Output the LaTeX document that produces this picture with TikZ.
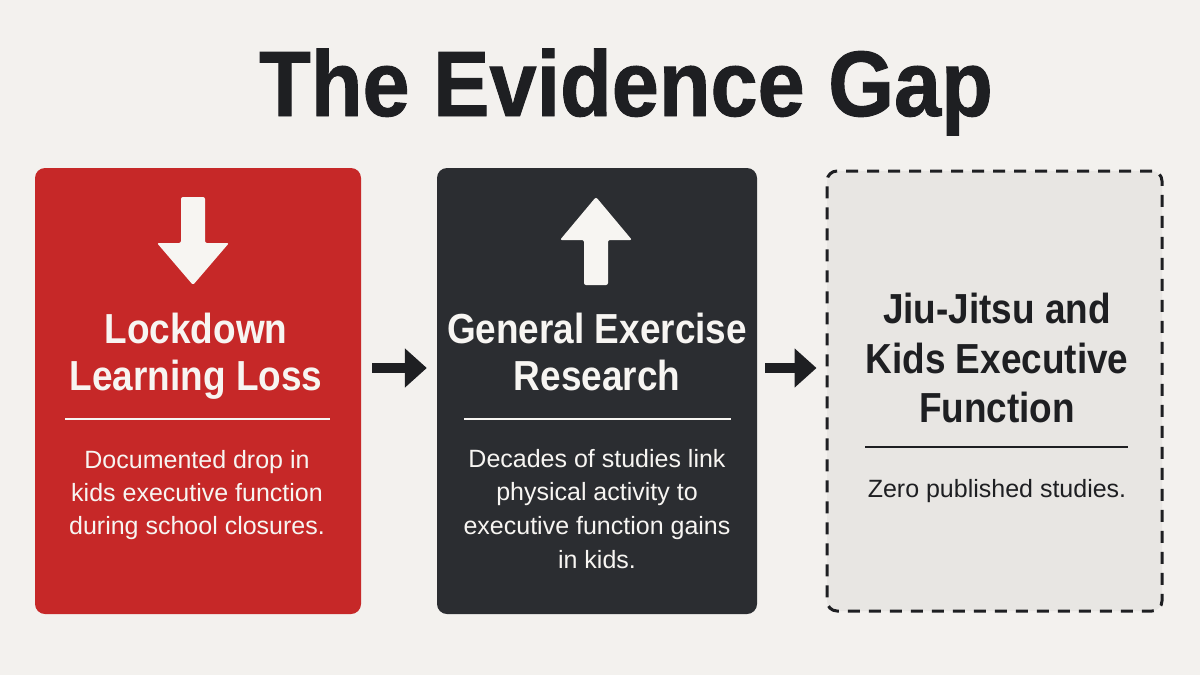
\documentclass[tikz,border=0pt]{standalone}
\usepackage{fontspec}
\setmainfont{Liberation Sans}
\newfontfamily\condfont[FakeStretch=0.88]{Liberation Sans}
\newfontfamily\titlefont[FakeStretch=0.91,FakeBold=1]{Liberation Sans}
\usetikzlibrary{arrows.meta}
\definecolor{bg}{HTML}{F3F1EE}
\definecolor{cardred}{HTML}{C62828}
\definecolor{carddark}{HTML}{2B2D31}
\definecolor{cardgray}{HTML}{E8E6E3}
\definecolor{ink}{HTML}{1E1F22}
\definecolor{paper}{HTML}{F7F5F2}
\begin{document}
\begin{tikzpicture}[x=1pt,y=-1pt,
  card/.style={rectangle, rounded corners=10pt, minimum width=#1, minimum height=446pt, inner sep=0pt},
  cardtitle/.style={anchor=base, inner sep=0pt, font=\condfont\bfseries\fontsize{42}{48}\selectfont},
  cardbody/.style={anchor=base, inner sep=0pt, font=\fontsize{25}{30}\selectfont},
  flow/.style={draw=ink, line width=10pt, -{Triangle[length=22pt,width=38pt]}},
  rule/.style={line width=2pt}]
\useasboundingbox (0,0) rectangle (1200,675);
\fill[bg] (0,0) rectangle (1200,675);

% title
\node[anchor=base, inner sep=0pt, text=ink, font=\titlefont\bfseries\fontsize{93}{100}\selectfont] (title) at (626,116) {The Evidence Gap};

% cards
\node[card=326pt, fill=cardred] (b1) at (198,391) {};
\node[card=320pt, fill=carddark] (b2) at (597,391) {};
\node[card=335pt, minimum height=440pt, fill=cardgray, draw=ink, line width=3pt, dash pattern=on 12pt off 9pt] (b3) at (994.5,391) {};

% icons
\fill[paper, rounded corners=2pt] (181,197) -- (205,197) -- (205,243) -- (229,243) -- (193,285) -- (157,243) -- (181,243) -- cycle;
\fill[paper, rounded corners=2pt] (596,197) -- (632,240) -- (608,240) -- (608,285) -- (584,285) -- (584,240) -- (560,240) -- cycle;

% card 1 text
\node[cardtitle, text=paper] (t1a) at (196,343) {Lockdown};
\node[cardtitle, text=paper] (t1b) at (196,390) {Learning Loss};
\draw[rule, paper] (65,419) -- (330,419);
\node[cardbody, text=paper] (d1a) at (197,468) {Documented drop in};
\node[cardbody, text=paper] (d1b) at (197,501) {kids executive function};
\node[cardbody, text=paper] (d1c) at (197,534) {during school closures.};

% card 2 text
\node[cardtitle, text=paper] (t2a) at (597,343) {General Exercise};
\node[cardtitle, text=paper] (t2b) at (597,390) {Research};
\draw[rule, paper] (464,419) -- (731,419);
\node[cardbody, text=paper] (d2a) at (597,467) {Decades of studies link};
\node[cardbody, text=paper] (d2b) at (597,500) {physical activity to};
\node[cardbody, text=paper] (d2c) at (597,534) {executive function gains};
\node[cardbody, text=paper] (d2d) at (597,568) {in kids.};

% card 3 text
\node[cardtitle, text=ink] (t3a) at (997,323) {Jiu-Jitsu and};
\node[cardtitle, text=ink] (t3b) at (997,373) {Kids Executive};
\node[cardtitle, text=ink] (t3c) at (997,422) {Function};
\draw[rule, ink] (865,447) -- (1128,447);
\node[cardbody, text=ink] (d3a) at (997,497) {Zero published studies.};

% connectors
\draw[flow, shorten <=11pt, shorten >=10pt] ([yshift=23pt]b1.east) -- ([yshift=23pt]b2.west);
\draw[flow, shorten <=8pt, shorten >=9pt] ([yshift=23pt]b2.east) -- ([yshift=23pt]b3.west);
\end{tikzpicture}
\end{document}
